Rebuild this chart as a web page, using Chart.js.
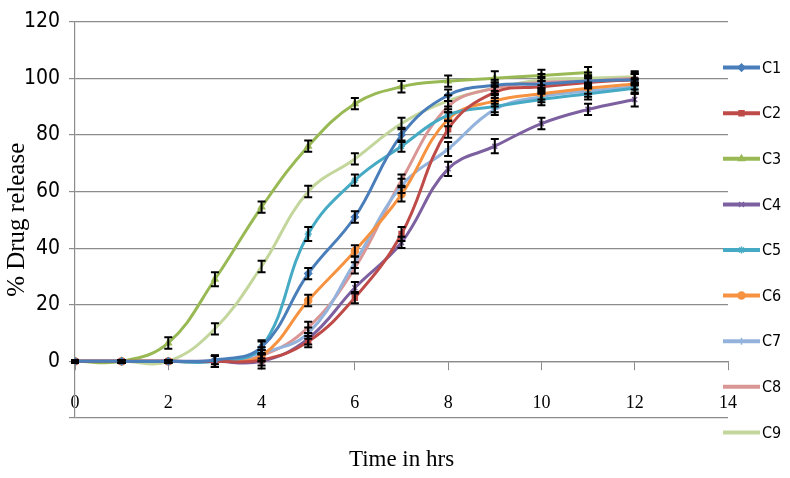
<!DOCTYPE html>
<html>
<head>
<meta charset="utf-8">
<script src="https://cdn.jsdelivr.net/npm/chart.js@4/dist/chart.umd.min.js"></script>
<style>
  html, body { margin: 0; padding: 0; background: #fff; }
  #wrap { width: 790px; height: 478px; }
</style>
</head>
<body>
<div id="wrap"><canvas id="releaseChart"></canvas></div>
<script>
// time points (hrs)
const hours = [0, 1, 2, 3, 4, 5, 6, 7, 8, 9, 10, 11, 12];

// % drug release per formulation
const c1 = [0, 0, 0, 0.5, 5, 31, 51, 80, 94, 97.5, 98, 99, 99.5];
const c2 = [0, 0, 0, 0, 0.5, 7, 22.5, 45, 82, 95, 97, 98.5, 99.5];
const c3 = [0, 0, 6.5, 29, 54.5, 76, 91, 97, 99, 100, 101, 102];
const c4 = [0, 0, 0, 0, 0, 8, 26, 42, 68, 76, 84, 89, 92.5];
const c5 = [0, 0, 0, 0, 5, 45, 64, 76, 87, 90, 92.5, 94.5, 96.5];
const c6 = [0, 0, 0, 0, 2, 21.5, 39, 59, 85.5, 92, 94.5, 96.5, 98];
const c7 = [0, 0, 0, 0, 3, 10, 35, 62, 75, 89, 93.5, 95.5, 97];
const c8 = [0, 0, 0, 0, 2, 12, 33, 64, 90, 96.5, 98.5, 99, 100];
const c9 = [0, 0, 0, 11.5, 33.5, 60, 71.5, 84, 92, 96.5, 99.5, 100, 100.5];

// error bar half-lengths (SD)
const e1 = [0.5, 0.5, 0.5, 1.5, 2, 2, 2, 2.5, 2, 2, 2, 2, 2];
const e2 = [0.5, 0.5, 0.5, 2, 2, 2, 2, 2.5, 3, 2, 2, 2, 2];
const e3 = [0.5, 0.5, 2, 2.5, 2, 2, 2, 2, 2, 2.5, 2, 2];
const e4 = [0.5, 0.5, 0.5, 2, 2.5, 2, 2, 2, 2.5, 2.5, 2, 2, 2.5];
const e5 = [0.5, 0.5, 0.5, 2, 2.5, 2.5, 2, 2, 2, 2, 2, 2, 2];
const e6 = [0.5, 0.5, 0.5, 2, 2, 2, 2, 2.5, 2.5, 2, 2, 2, 2];
const e7 = [0.5, 0.5, 0.5, 2, 2, 2, 2, 2.5, 2.5, 2, 2, 2, 2.5];
const e8 = [0.5, 0.5, 0.5, 2, 2, 2, 2, 2, 2, 2, 2, 2, 2];
const e9 = [0.5, 0.5, 0.5, 2, 2, 2, 2, 2, 2, 2, 2, 2, 2];

const names = ['C1', 'C2', 'C3', 'C4', 'C5', 'C6', 'C7', 'C8', 'C9'];
const xTicks = [0, 2, 4, 6, 8, 10, 12, 14];
const yTicks = [0, 20, 40, 60, 80, 100, 120];

const series = [c1, c2, c3, c4, c5, c6, c7, c8, c9];
const errors = [e1, e2, e3, e4, e5, e6, e7, e8, e9];
const colors = ['#4a7ebb', '#be4b48', '#98b954', '#7d60a0', '#46aac5',
                '#f69240', '#93b3dc', '#d99694', '#c3d69b'];
const markers = ['rectRot', 'rect', 'triangle', 'crossRot', 'star',
                 'circle', 'cross', false, false];

const narrow = "'Liberation Sans Narrow', 'DejaVu Sans Condensed', sans-serif";
const serif = "'Liberation Serif', 'DejaVu Serif', serif";

// black error bars, placed with the chart's own scales
const errorBars = {
  id: 'errorBars',
  afterDatasetsDraw(chart) {
    const { ctx, scales: { x, y } } = chart;
    ctx.save();
    ctx.strokeStyle = '#000';
    ctx.lineWidth = 2;
    chart.data.datasets.forEach(ds => {
      ds.data.forEach((p, j) => {
        const e = ds.errors[j];
        const px = x.getPixelForValue(p.x);
        const top = y.getPixelForValue(p.y + e);
        const bot = y.getPixelForValue(p.y - e);
        ctx.beginPath();
        ctx.moveTo(px, top); ctx.lineTo(px, bot);
        ctx.moveTo(px - 4, top); ctx.lineTo(px + 4, top);
        ctx.moveTo(px - 4, bot); ctx.lineTo(px + 4, bot);
        ctx.stroke();
      });
    });
    ctx.restore();
  }
};

// legend at the right: line + marker + name
const sideLegend = {
  id: 'sideLegend',
  afterDraw(chart) {
    const { ctx, chartArea } = chart;
    ctx.save();
    chart.data.datasets.forEach((ds, i) => {
      const cy = chartArea.top + 46 + i * 45.6;
      const x0 = chartArea.right - 5, x1 = chartArea.right + 32;
      ctx.strokeStyle = ds.borderColor;
      ctx.lineWidth = 4;
      ctx.beginPath(); ctx.moveTo(x0, cy); ctx.lineTo(x1, cy); ctx.stroke();
      if (ds.pointStyle && Chart.helpers && Chart.helpers.drawPoint) {
        ctx.fillStyle = ds.borderColor;
        ctx.lineWidth = 1.5;
        Chart.helpers.drawPoint(ctx, { pointStyle: ds.pointStyle, rotation: 0, radius: 3.5, borderWidth: 1.5 }, (x0 + x1) / 2, cy);
      }
      ctx.fillStyle = '#000';
      ctx.font = '16px ' + narrow;
      ctx.textBaseline = 'middle';
      ctx.fillText(ds.label, x1 + 2, cy + 1);
    });
    ctx.restore();
  }
};

new Chart(document.getElementById('releaseChart'), {
  type: 'line',
  data: {
    datasets: series.map((vals, i) => ({
      label: names[i],
      data: vals.map((v, j) => ({ x: hours[j], y: v })),
      errors: errors[i],
      borderColor: colors[i],
      backgroundColor: colors[i],
      borderWidth: 3,
      tension: 0.4,
      pointStyle: markers[i],
      pointRadius: markers[i] ? 3.5 : 0,
      pointBorderWidth: 1.5,
      fill: false
    }))
  },
  options: {
    animation: false,
    responsive: true,
    maintainAspectRatio: false,
    layout: { padding: { left: 0, top: 18, right: 62, bottom: 60 } },
    plugins: { legend: { display: false }, tooltip: { enabled: false } },
    scales: {
      x: {
        type: 'linear',
        min: 0, max: 14,
        position: { y: 0 },
        afterBuildTicks: s => { s.ticks = xTicks.map(v => ({ value: v })); },
        ticks: { font: { family: serif, size: 18 }, color: '#000', padding: 23 },
        grid: { drawOnChartArea: false, color: '#8c8c8c', tickLength: 8 },
        border: { color: '#8c8c8c', width: 1.2 },
        title: { display: true, text: 'Time in hrs', color: '#000',
                 font: { family: serif, size: 23 }, padding: { top: 9, bottom: 0 } }
      },
      y: {
        min: -20, max: 120,
        afterFit: s => { s.width = 75; },
        ticks: { stepSize: 20, color: '#000', padding: 9,
                 font: { family: narrow, size: 21 },
                 callback: v => yTicks.includes(v) ? v : '' },
        grid: { color: '#8c8c8c', lineWidth: 1.2, tickLength: 6 },
        border: { color: '#8c8c8c', width: 1.2 },
        title: { display: true, text: '% Drug release', color: '#000',
                 font: { family: serif, size: 25 }, padding: { top: 2, bottom: 0 } }
      }
    }
  },
  plugins: [errorBars, sideLegend]
});
</script>
</body>
</html>
